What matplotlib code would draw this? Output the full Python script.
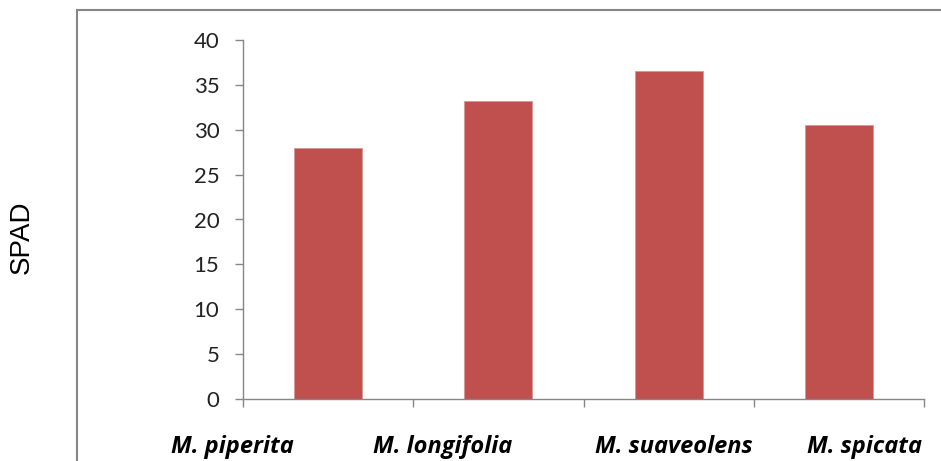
import matplotlib
matplotlib.use("Agg")
import matplotlib.pyplot as plt
from matplotlib.patches import Rectangle

# data
species = ["M. piperita", "M. longifolia", "M. suaveolens", "M. spicata"]
spad = [28.0, 33.2, 36.6, 30.5]
yticks = [0, 5, 10, 15, 20, 25, 30, 35, 40]

# the species labels sit a little off their category centres in the original
label_shift = [-0.56, -0.33, 0.03, 0.15]

bar_color = "#C0504D"
axis_gray = "#868686"

fig = plt.figure(figsize=(9.41, 4.61), dpi=100)
ax = fig.add_axes([243 / 941, 1 - 399 / 461, (924 - 243) / 941, (399 - 40) / 461])

# outer chart frame (cut off at right and bottom like the original)
fig.patches.append(Rectangle((77 / 941, -0.1), 1.0, 1 - 10 / 461 + 0.1,
                             transform=fig.transFigure, fill=False,
                             edgecolor=axis_gray, linewidth=1.5))

x = list(range(len(species)))
ax.bar(x, spad, width=0.4, color=bar_color, edgecolor="#D99694", linewidth=0.6)

ax.set_xlim(-0.5, len(species) - 0.5)
ax.set_ylim(0, 40)
ax.set_yticks(yticks)
ax.set_yticklabels([str(t) for t in yticks], fontsize=16, family="Lato", color="#222222")

ax.set_xticks([i - 0.5 for i in range(len(species) + 1)])
ax.set_xticklabels([])
ax.tick_params(axis="x", which="major", length=6, color=axis_gray, width=1)
ax.tick_params(axis="y", length=6, color=axis_gray, width=1, pad=11)

# category labels as text so they can carry the original offsets
trans = ax.get_xaxis_transform()
for i, name in enumerate(species):
    ax.text(i + label_shift[i], -0.135, name, transform=trans, ha="center", va="center",
            fontsize=17, family="Open Sans", fontweight="bold", fontstyle="italic",
            clip_on=False)

for side in ["top", "right"]:
    ax.spines[side].set_visible(False)
for side in ["left", "bottom"]:
    ax.spines[side].set_color(axis_gray)
    ax.spines[side].set_linewidth(1)

fig.text(22 / 941, 1 - 237 / 461, "SPAD", rotation=90, ha="center", va="center",
         fontsize=20, family="Liberation Sans")

fig.savefig("out.png", dpi=100)
